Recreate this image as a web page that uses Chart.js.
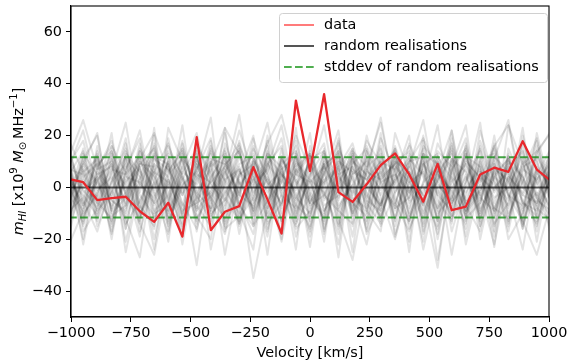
<!DOCTYPE html>
<html lang="en">
<head>
<meta charset="UTF-8">
<title>Stacked HI mass vs random realisations</title>
<script src="https://cdn.jsdelivr.net/npm/chart.js"></script>
<style>
  html, body { margin: 0; padding: 0; background: #ffffff; }
  #wrap { width: 570px; height: 363px; position: relative; }
</style>
</head>
<body>
<div id="wrap"><canvas id="chart"></canvas></div>
<script>
// channel velocities (km/s), same grid for data and realisations
const velocity = [-1008, -949, -890, -830, -771, -712, -652, -593, -534, -474, -415, -356,
  -296, -237, -178, -119, -59, 0, 59, 119, 178, 237, 296, 356, 415, 474, 534, 593, 652,
  712, 771, 830, 890, 949, 1008];

// stacked m_HI of the data
const dataValues = [3.2, 2.0, -4.9, -4.1, -3.6, -9.2, -13.3, -5.9, -19.0, 19.4, -16.5, -9.4,
  -7.2, 7.8, -4.6, -17.8, 33.5, 6.3, 36.0, -1.8, -5.6, 1.2, 8.6, 13.1, 5.0, -5.5, 9.1, -8.8,
  -7.4, 5.0, 7.6, 6.0, 17.8, 6.9, 2.5];

// random realisations (grey band)
const randomRuns = [
  [5, -8, 12, -3, 17, -10, 2, -15, 8, 21, -4, -12, 6, 1, -19, 9, 14, -6, 3, -22, 11, 0, -7, 15, -2, 7, -13, 19, -9, 4, -1, 10, -16, 6, -5],
  [-11, 3, -6, 14, -1, 8, -20, 5, 11, -9, 16, 2, -14, 7, 25, -3, -8, 12, -17, 4, -2, 18, 9, -12, 6, -24, 1, -5, 13, -8, 20, -10, 3, -15, 8],
  [9, 18, -4, -13, 6, 22, -7, 1, -18, 4, 10, -26, 3, -9, 12, 5, -2, -16, 8, 14, -11, 6, 27, -4, -13, 9, 2, -7, 16, -20, 5, 11, -3, 7, -12],
  [-2, -14, 7, 10, -21, 3, 13, -6, 24, -12, -3, 8, 17, -15, -5, 2, 20, 7, -9, -1, 15, -18, -6, 3, 10, 12, -28, 4, -2, 9, -14, -6, 18, 1, 11],
  [14, -5, -17, 2, 9, -3, -11, 19, -8, 6, 27, -15, -1, 11, 3, -13, 7, -23, 12, 5, -8, 2, 16, -19, 0, -6, 14, 8, -11, 22, 3, -17, 9, -4, 6],
  [-7, 11, 20, -10, -4, 15, 5, -12, 2, -30, 8, 13, -6, -18, 9, 16, -11, 4, 24, -7, 1, -14, 10, 7, -21, 18, -3, -9, 5, -12, 11, 26, -8, -2, -16],
  [3, -20, 8, 16, -12, -27, 11, 7, -3, 13, -9, 1, 22, 5, -14, -6, 18, -2, -10, 9, -25, 14, 3, -8, 17, 4, -12, 10, -19, 6, -4, 0, 12, -21, 9],
  [18, 6, -9, -2, 12, 4, -16, 23, 10, -7, -15, 6, -4, 19, 1, -21, 8, 13, -5, 2, 12, -9, -17, 21, 5, -11, 7, -26, 3, 15, -8, 4, -2, 13, 22],
  [-15, 1, 13, -8, 3, -13, 9, -4, -19, 17, 5, -10, 12, -2, 8, 24, -7, -12, 15, -16, 6, 3, -9, 11, -4, 20, -15, 2, 9, -3, 16, -13, 6, 19, -7],
  [7, -10, -3, 21, -16, 10, -1, 14, 5, -11, -20, 17, 2, -8, 13, -4, -15, 9, 1, 19, -12, 8, 13, -6, -17, 2, 24, -11, 0, 7, -19, 12, -6, -9, 4],
  [-4, 15, -12, 6, 25, -8, 17, -9, 13, -2, 7, -16, -11, 4, -6, 11, 3, -19, 7, 12, -5, -22, 4, 9, 14, -7, 10, -3, -14, 18, 2, -5, 23, -13, -1],
  [11, -2, 4, -18, 7, 19, -13, 3, -7, 12, -5, 21, -9, -24, 16, -10, 5, 2, -14, 8, 17, -3, -11, 4, 20, -15, 6, 13, -7, -1, 9, -20, -10, 5, 15],
  [-19, 8, -7, 11, -2, -14, 23, -17, 6, 1, 14, -3, 9, 12, -10, 7, -24, 16, -3, -9, 5, 10, -15, -2, 8, 26, -5, -13, 11, 3, -9, 7, 14, -4, -11],
  [2, -13, 16, -5, -9, 12, -3, 10, -22, 8, -12, 4, 28, -6, 3, -18, 11, -8, 6, -14, 9, 15, -4, -20, 2, -7, 17, 5, -16, 11, 13, -2, -24, 8, 0],
  [8, 22, -1, 4, -14, -5, 7, -21, 15, -17, 11, 9, -2, 16, -13, 5, -1, 21, -18, 10, -6, -11, 19, 6, -10, 13, -20, 8, 24, -15, 0, 6, -9, 16, -6],
  [-9, -4, 10, -15, 13, 6, -24, 11, -3, 7, 19, -7, 14, -11, 20, -2, 12, -6, 9, -27, 13, 4, -8, 16, -1, -12, 3, 11, -5, 8, -23, 15, 2, -10, 12],
  [13, -17, -8, 9, 1, -19, 14, 0, 18, -6, -2, 12, -18, 8, -8, 15, -13, 6, -21, 15, 3, -16, 7, -13, 11, 5, -8, 22, -12, -6, 17, -4, 8, 11, -20],
  [-1, 9, 21, -11, -7, 14, 2, -10, 6, 15, -24, 3, 7, -14, 11, -8, 23, -15, 2, 7, -19, 12, -3, 10, -25, 16, 9, -4, 14, -10, 6, -15, 20, -3, 8],
  [16, -7, 2, 13, -25, 1, 12, 9, -12, -4, 18, -13, 5, 20, -16, 3, -5, 11, 14, -4, 8, -7, 21, -15, 6, -3, 12, -17, 1, 25, -11, 9, -14, 4, -9],
  [-6, 12, -15, -1, 19, -11, 6, 17, -2, 10, -8, 23, -14, 1, 7, -20, 14, -3, -12, 18, -9, 20, 1, -7, 13, -18, 4, 15, -22, 2, 10, -8, 5, -17, 13],
  [10, -22, 5, 8, -6, 17, -9, -3, 12, -14, 3, 15, -8, 10, -26, 12, -4, 8, 17, -11, 4, -13, 8, 14, -6, 1, -18, 6, 19, -13, 7, 3, -12, 21, -2],
  [-13, 4, 9, -20, 11, -2, 20, -14, 1, 6, -10, -5, 18, -3, 13, 8, -16, -9, 5, 22, -15, 7, -1, 12, 3, -21, 10, -6, 2, 14, -17, 24, 0, -6, 7],
  [-22, -9, 4, -17, 6, -14, -26, 3, -11, 9, -5, -18, 2, -35, -8, 5, -14, -3, 10, -12, -28, 1, -7, 12, -16, -4, -31, 7, -10, -2, -22, 4, -13, -26, -6],
  [12, 26, 7, 18, -3, 11, 21, 6, 15, -4, 9, 23, 13, 2, 17, 28, 5, 12, -9, 1, 14, 8, 25, -2, 10, 19, 6, 22, -6, 3, 16, 24, 9, 14, 21],
  [6, -12, 3, 9, -7, 14, -2, -18, 11, 4, -9, 7, -15, 10, 2, -6, 13, -11, 5, 17, -4, -8, 12, 1, -13, 9, -3, 16, -7, -17, 8, 2, -10, 14, -5],
  [-3, 7, -10, 2, 15, -6, 9, 4, -14, 11, 1, -5, 8, -12, 6, 19, -9, 3, -2, -15, 10, 5, -6, 13, -11, 2, 8, -14, 17, -4, -9, 12, 4, -7, 3],
  [4, -6, 14, -9, -2, 8, -13, 12, 3, -8, 15, -1, -10, 6, -4, 11, 2, -17, 9, -5, 13, -2, -12, 7, 16, -9, 5, -1, -11, 10, -6, 13, -15, 3, 9],
  [-8, 2, -4, 16, 6, -11, 1, 9, -6, -16, 4, 12, -3, -7, 14, -1, 9, -13, 11, 3, -10, 16, 2, -9, 5, -3, -16, 11, 6, -12, 4, -1, 14, -8, -13],
  [10, -15, 6, -1, -12, 4, 16, -5, 8, -3, -13, 9, 14, -10, 1, 6, -7, 12, -16, 5, 8, -4, 11, -18, 3, 15, -8, 0, 7, -6, 12, -11, 2, 18, -4],
  [-5, 9, 1, -7, 11, -17, 3, 13, -10, 5, 2, -8, 16, 4, -12, -3, 7, -1, 13, -9, -14, 6, 3, 9, -5, 11, -10, -4, 12, 8, -15, 5, -3, -6, 14],
  [2, -3, -11, 12, -8, 7, -6, 16, 4, -13, 10, 3, -7, -15, 9, 2, -12, 14, -4, 11, -1, -10, 15, -6, 8, -14, 12, 3, -9, 6, 1, -7, 10, -12, 4],
  [-10, 13, 5, -4, 8, -9, 12, -2, -15, 9, -6, 14, 1, 8, -11, 4, 16, -7, -3, 10, 6, -17, 2, 5, -8, 13, -1, -11, 9, -5, 15, -3, -13, 7, 1],
  [13, -1, -8, 6, -16, 10, 4, -9, 3, 14, -11, -2, 7, -5, 18, -12, 1, 9, -7, -3, 12, -6, -14, 8, 2, 6, -9, 11, -13, 16, -2, 8, -6, -11, 10],
  [-1, -9, 12, -14, 4, 2, -6, 10, -11, 17, 3, -4, -13, 11, -2, 8, -10, 5, 14, -8, 1, 11, -7, 3, -14, 9, 13, -6, 4, -10, 7, -14, 11, 2, -8],
  [7, 5, -13, 3, 12, -7, -15, 6, 14, -2, -8, 10, -3, 15, 5, -13, 3, -6, 9, 13, -10, 1, 6, -12, 9, -4, 2, 14, -9, -1, 12, 6, -16, 10, -3],
  [-14, 10, 2, -5, -10, 9, 8, -13, 0, 11, -4, 6, 15, -9, 4, -7, 10, 3, -13, 6, 15, -5, -9, 2, 12, -17, 7, -2, 10, 4, -8, -12, 7, 3, 13],
  [3, -7, 9, 14, -3, -12, 6, 2, -9, -6, 13, -17, 5, 9, -8, 12, -4, -10, 3, 8, -7, 14, -11, 5, -2, 10, -13, 7, 15, -9, 4, 11, -5, -14, 6],
  [9, -11, -2, 7, 5, 12, -10, -7, 17, -5, 2, 8, -12, -4, 10, -14, 6, 13, -1, -18, 7, 3, 10, -8, -4, 13, 9, -12, -3, 11, -10, 2, 16, -5, -9],
  [-12, 6, 11, -9, 14, 1, -4, 8, -16, 3, 9, -14, 4, 13, -6, 10, -19, 2, 8, -2, 11, -9, 5, 15, -12, -1, 6, -8, 13, -15, 9, -3, -7, 12, 2],
  [5, 14, -6, -12, 2, 9, 15, -11, 4, -9, -1, 11, -6, 3, -17, 7, 12, -4, -11, 14, -3, 8, -13, 10, 6, -10, 3, 17, -6, 1, -12, 10, 4, -8, 16]
];

const meanLevel = 0;     // mean of realisations
const stdLevel = 11.6;   // stddev of realisations

const xTicks = [-1000, -750, -500, -250, 0, 250, 500, 750, 1000];
const yTicks = [-40, -20, 0, 20, 40, 60];

const FONT = "'DejaVu Sans', sans-serif";
const FSIZE = 14.4;

function pts(values) {
  return values.map((v, i) => ({ x: velocity[i], y: v }));
}
function flat(level) {
  return [{ x: velocity[0], y: level }, { x: velocity[velocity.length - 1], y: level }];
}

const datasets = [];

datasets.push({
  label: 'data',
  data: pts(dataValues),
  borderColor: '#e8282c',
  borderWidth: 2.3,
  pointRadius: 0,
  borderJoinStyle: 'round',
  order: 0
});
[stdLevel, -stdLevel].forEach(lv => {
  datasets.push({
    label: 'stddev',
    data: flat(lv),
    borderColor: 'rgba(20,140,20,0.8)',
    borderWidth: 2,
    borderDash: [7.7, 3.3],
    pointRadius: 0,
    order: 1
  });
});
datasets.push({
  label: 'mean',
  data: flat(meanLevel),
  borderColor: 'rgba(0,0,0,0.65)',
  borderWidth: 2,
  pointRadius: 0,
  order: 2
});
randomRuns.forEach((run, i) => {
  datasets.push({
    label: 'run ' + i,
    data: pts(run),
    borderColor: 'rgba(0,0,0,0.11)',
    borderWidth: 2,
    pointRadius: 0,
    borderJoinStyle: 'round',
    order: 3
  });
});

// top/right spines, legend box and axis titles
const decor = {
  id: 'decor',
  afterDatasetsDraw(chart) {
    const { ctx, chartArea: a } = chart;
    ctx.save();
    ctx.strokeStyle = '#000';
    ctx.lineWidth = 1.1;
    ctx.strokeRect(a.left, a.top, a.right - a.left, a.bottom - a.top);
    ctx.restore();
  },
  afterDraw(chart) {
    const { ctx, chartArea: a } = chart;
    ctx.save();

    // legend
    const bx = 279.5, by = 13.5, bw = 268, bh = 69;
    ctx.beginPath();
    ctx.roundRect(bx, by, bw, bh, 3);
    ctx.fillStyle = 'rgba(255,255,255,0.8)';
    ctx.fill();
    ctx.strokeStyle = '#d0d0d0';
    ctx.lineWidth = 1;
    ctx.stroke();

    const items = [
      { text: 'data', color: '#ff7b7b', dash: [] },
      { text: 'random realisations', color: '#555555', dash: [] },
      { text: 'stddev of random realisations', color: '#4fae4f', dash: [7.7, 3.3] }
    ];
    ctx.font = FSIZE + 'px ' + FONT;
    ctx.textBaseline = 'middle';
    ctx.textAlign = 'left';
    items.forEach((it, i) => {
      const y = 25 + i * 21;
      ctx.beginPath();
      ctx.setLineDash(it.dash);
      ctx.strokeStyle = it.color;
      ctx.lineWidth = 2;
      ctx.moveTo(284, y);
      ctx.lineTo(314, y);
      ctx.stroke();
      ctx.setLineDash([]);
      ctx.fillStyle = '#000';
      ctx.fillText(it.text, 324, y);
    });

    // x title
    ctx.textAlign = 'center';
    ctx.fillText('Velocity [km/s]', (a.left + a.right) / 2, 353);

    // y title with sub/superscripts, rotated
    const segs = [
      { t: 'm', it: true, s: 1, dy: 0 },
      { t: 'HI', it: true, s: 0.7, dy: 3 },
      { t: ' [x10', s: 1, dy: 0 },
      { t: '9', s: 0.7, dy: -6 },
      { t: ' ', s: 1, dy: 0 },
      { t: 'M', it: true, s: 1, dy: 0 },
      { t: '\u2299', s: 0.7, dy: 3 },
      { t: '\u2009MHz', s: 1, dy: 0 },
      { t: '\u22121', s: 0.7, dy: -6 },
      { t: ']', s: 1, dy: 0 }
    ];
    const fontOf = sg => (sg.it ? 'italic ' : '') + (FSIZE * sg.s).toFixed(1) + 'px ' + FONT;
    let total = 0;
    segs.forEach(sg => { ctx.font = fontOf(sg); sg.w = ctx.measureText(sg.t).width; total += sg.w; });
    ctx.translate(18, (a.top + a.bottom) / 2);
    ctx.rotate(-Math.PI / 2);
    ctx.textAlign = 'left';
    ctx.textBaseline = 'alphabetic';
    let x = -total / 2;
    segs.forEach(sg => {
      ctx.font = fontOf(sg);
      ctx.fillText(sg.t, x, 5 + sg.dy);
      x += sg.w;
    });
    ctx.restore();
  }
};

const tickFont = { family: FONT, size: FSIZE };
const minus = v => String(v).replace('-', '\u2212');

new Chart(document.getElementById('chart'), {
  type: 'line',
  data: { datasets },
  options: {
    responsive: true,
    maintainAspectRatio: false,
    animation: false,
    devicePixelRatio: 1,
    layout: { padding: { top: 6, right: 21, left: 0, bottom: 0 } },
    plugins: {
      legend: { display: false },
      tooltip: { enabled: false }
    },
    scales: {
      x: {
        type: 'linear',
        min: -1000,
        max: 1000,
        afterBuildTicks: s => { s.ticks = xTicks.map(v => ({ value: v })); },
        afterFit: s => { s.height = 46; s.paddingLeft = 0; s.paddingRight = 0; },
        ticks: { font: tickFont, color: '#000', padding: 3, maxRotation: 0, autoSkip: false, callback: minus },
        grid: { drawOnChartArea: false, drawTicks: true, tickLength: 5, color: '#000', lineWidth: 1 },
        border: { display: true, color: '#000', width: 1.1 }
      },
      y: {
        type: 'linear',
        min: -50,
        max: 70,
        afterBuildTicks: s => { s.ticks = yTicks.map(v => ({ value: v })); },
        afterFit: s => { s.width = 71; s.paddingTop = 0; s.paddingBottom = 0; },
        ticks: { font: tickFont, color: '#000', padding: 4, autoSkip: false, callback: minus },
        grid: { drawOnChartArea: false, drawTicks: true, tickLength: 5, color: '#000', lineWidth: 1 },
        border: { display: true, color: '#000', width: 1.1 }
      }
    }
  },
  plugins: [decor]
});
</script>
</body>
</html>
